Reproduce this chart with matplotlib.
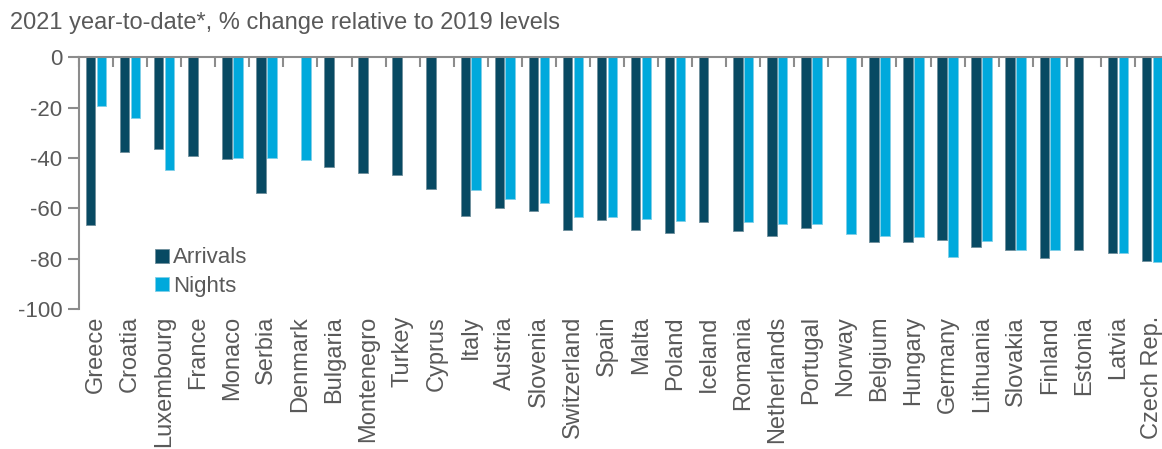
import numpy as np
import matplotlib.pyplot as plt

plt.rcParams['font.family'] = ['Liberation Sans', 'DejaVu Sans']
plt.rcParams['axes.unicode_minus'] = False

countries = ['Greece', 'Croatia', 'Luxembourg', 'France', 'Monaco', 'Serbia',
             'Denmark', 'Bulgaria', 'Montenegro', 'Turkey', 'Cyprus', 'Italy',
             'Austria', 'Slovenia', 'Switzerland', 'Spain', 'Malta', 'Poland',
             'Iceland', 'Romania', 'Netherlands', 'Portugal', 'Norway', 'Belgium',
             'Hungary', 'Germany', 'Lithuania', 'Slovakia', 'Finland', 'Estonia',
             'Latvia', 'Czech Rep.']

# nan = no data for that country
arrivals = [-66.5, -37.5, -36.4, -39.4, -40.4, -54.0,
            np.nan, -43.5, -46.0, -46.8, -52.4, -63.1,
            -60.0, -61.1, -68.5, -64.7, -68.5, -69.9,
            -65.5, -69.1, -71.0, -68.0, np.nan, -73.4,
            -73.2, -72.5, -75.2, -76.5, -79.9, -76.7,
            -77.8, -81.1]
nights = [-19.3, -24.2, -44.6, np.nan, -40.0, -40.1,
          -40.8, np.nan, np.nan, np.nan, np.nan, -52.8,
          -56.2, -57.9, -63.6, -63.6, -64.2, -65.2,
          np.nan, -65.6, -66.2, -66.4, -70.4, -70.8,
          -71.4, -79.4, -72.8, -76.5, -76.5, np.nan,
          -77.8, -81.5]

dark = '#084a63'
light = '#00a9dc'
grey = '#595959'
axcol = '#8c8c8c'

fig = plt.figure(figsize=(11.62, 4.49), dpi=100)
ax = fig.add_axes([0.068, 0.3118, 0.938, 0.5606])

x = np.arange(len(countries))
w = 0.28
ax.bar(x - 0.16, arrivals, w, color=dark, edgecolor='#6f8f9c', linewidth=0.6, label='Arrivals')
ax.bar(x + 0.16, nights, w, color=light, edgecolor='#7fcfe8', linewidth=0.6, label='Nights')

ax.set_xlim(-0.5, len(countries) - 0.5)
ax.set_ylim(-100, 0)
ax.set_yticks(range(-100, 1, 20))

ax.set_xticks(x)
ax.set_xticklabels(countries, rotation=90, fontsize=17, color=grey)
ax.set_xticks(np.arange(-0.5, len(countries), 1), minor=True)
ax.tick_params(axis='x', which='major', length=0, pad=5)
ax.tick_params(axis='x', which='minor', top=True, bottom=False, direction='in',
               length=7, width=1.5, color=axcol)
ax.tick_params(axis='y', length=8, width=1.5, color=axcol, labelsize=16,
               labelcolor=grey, pad=4)

for s in ['right', 'bottom']:
    ax.spines[s].set_visible(False)
for s in ['left', 'top']:
    ax.spines[s].set_color(axcol)
    ax.spines[s].set_linewidth(1.5)

leg = ax.legend(loc='upper left', bbox_to_anchor=(0.062, 0.28), frameon=False,
                fontsize=16, handlelength=0.6, handleheight=0.6, handletextpad=0.2,
                labelspacing=0.35, borderaxespad=0)
for t in leg.get_texts():
    t.set_color(grey)

fig.text(0.009, 0.948, '2021 year-to-date*, % change relative to 2019 levels',
         fontsize=17, color=grey, va='center', ha='left')

fig.savefig('out.png', dpi=100)
